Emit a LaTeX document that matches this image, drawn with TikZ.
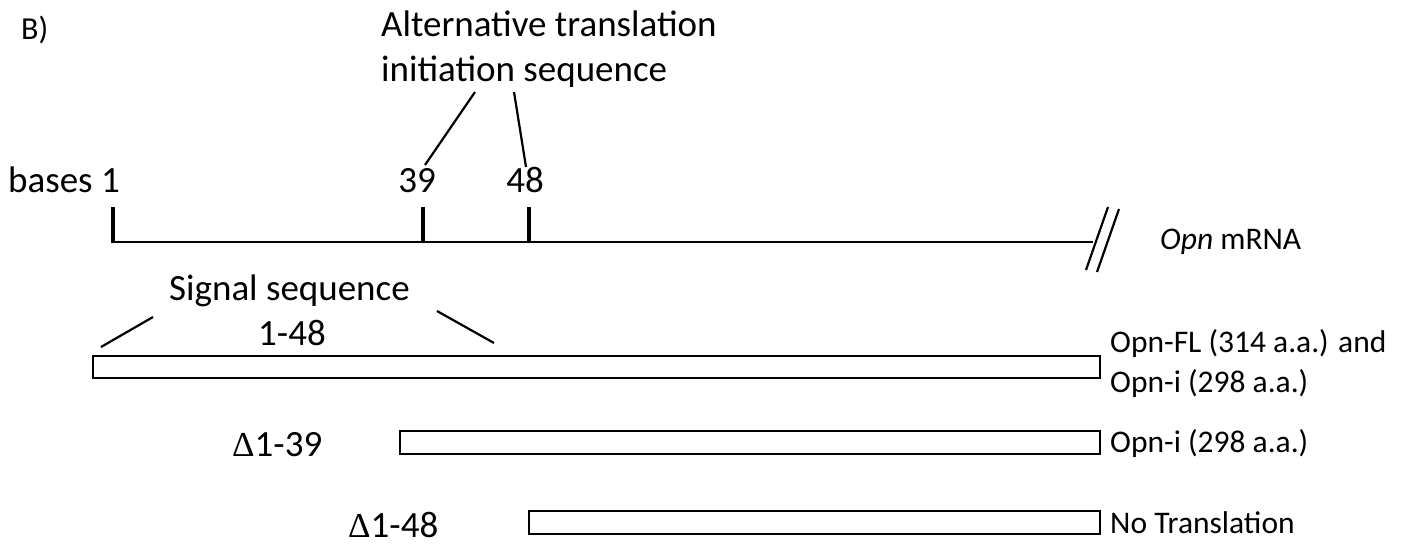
\documentclass[tikz,border=0pt]{standalone}
\usepackage{fontspec}
\setmainfont{Carlito}
\newfontfamily\deltafont{Liberation Serif}
\begin{document}
\begin{tikzpicture}[x=1pt,y=-1pt,
  lbl/.style={inner sep=0pt, anchor=base west, font=\fontsize{37}{45}\selectfont},
  rlbl/.style={inner sep=0pt, anchor=base west, font=\fontsize{31.5}{40}\selectfont},
  tick/.style={line width=4.5pt},
  thin/.style={line width=2.2pt},
  bar/.style={draw, line width=2.6pt, fill=white}]
\useasboundingbox (0,0) rectangle (1402,545);
\fill[white] (0,0) rectangle (1402,545);

% panel label
\node[inner sep=0pt, anchor=base west, font=\fontsize{32}{36}\selectfont] (B) at (21,40) {B)};

% alternative translation label
\node[lbl] (alt1) at (381,37) {Alternative translation};
\node[lbl] (alt2) at (381,82) {initiation sequence};
\coordinate (a39) at (475,92);
\coordinate (a48) at (514,92);

% base labels
\node[lbl] (bases) at (8,193) {bases 1};
\node[lbl, anchor=base] (n39) at (417,193) {39};
\node[lbl, anchor=base] (n48) at (525,193) {48};
\coordinate (e39) at (425,165);
\coordinate (e48) at (526,167);
\draw[thin] (a39) -- (e39);
\draw[thin] (a48) -- (e48);

% mRNA line
\coordinate (m0) at (113,242);
\coordinate (m1) at (1093,242);
\draw[line width=2.6pt] (m0) -- (m1);
\coordinate (t1top) at (113,207);
\coordinate (t1bot) at (113,243.3);
\coordinate (t39top) at (423,207);
\coordinate (t39bot) at (423,242);
\coordinate (t48top) at (529,207);
\coordinate (t48bot) at (529,242);
\draw[tick] (t1top) -- (t1bot);
\draw[tick] (t39top) -- (t39bot);
\draw[tick] (t48top) -- (t48bot);
% break marks
\coordinate (s1a) at (1086,270);
\coordinate (s1b) at (1108,207);
\coordinate (s2a) at (1097,272);
\coordinate (s2b) at (1119,209);
\draw[thin] (s1a) -- (s1b);
\draw[thin] (s2a) -- (s2b);
\node[rlbl] (mrna) at (1160,250) {\textit{Opn} mRNA};

% signal sequence
\node[lbl] (sig) at (169,300) {Signal sequence};
\node[lbl] (sig2) at (258,345) {1-48};
\coordinate (sl1) at (101,347);
\coordinate (sl2) at (153,317);
\coordinate (sr1) at (437,311);
\coordinate (sr2) at (494,343);
\draw[thin] (sl1) -- (sl2);
\draw[thin] (sr1) -- (sr2);

% bars
\draw[bar] (93,356) rectangle (1100,378);
\draw[bar] (400,431) rectangle (1100,454);
\draw[bar] (529,511) rectangle (1100,534);

% right labels
\node[rlbl] (fl1) at (1110,352) {Opn-FL (314 a.a.) and};
\node[rlbl] (fl2) at (1110,392) {Opn-i (298 a.a.)};
\node[rlbl] (oi) at (1110,452) {Opn-i (298 a.a.)};
\node[rlbl] (nt) at (1110,533) {No Translation};

% deletion labels
\node[lbl] (d39) at (232,456) {{\deltafont\fontsize{35}{40}\selectfont Δ}1-39};
\node[lbl] (d48) at (348,537) {{\deltafont\fontsize{35}{40}\selectfont Δ}1-48};
\end{tikzpicture}
\end{document}
